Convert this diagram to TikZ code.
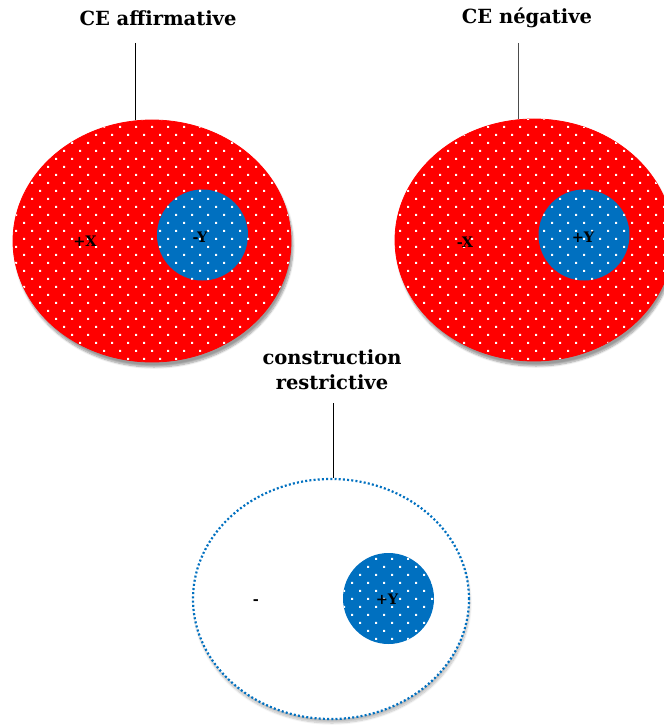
\documentclass[tikz,border=0pt]{standalone}
\usepackage{fontspec}
\setmainfont{DejaVu Serif}
\usetikzlibrary{shapes.geometric,patterns,shadows.blur}
\definecolor{setred}{HTML}{FF0000}
\definecolor{setblue}{HTML}{0070C0}
\pgfdeclarepatternformonly{whitedots}{\pgfqpoint{-1pt}{-1pt}}{\pgfqpoint{15pt}{15pt}}{\pgfqpoint{16pt}{16pt}}{%
  \pgfpathrectangle{\pgfqpoint{-1pt}{-1pt}}{\pgfqpoint{2.2pt}{2.2pt}}%
  \pgfpathrectangle{\pgfqpoint{7pt}{7pt}}{\pgfqpoint{2.2pt}{2.2pt}}%
  \pgfusepath{fill}}
\tikzset{
  setlabel/.style={font=\bfseries\fontsize{19.5}{25}\selectfont, align=center, inner sep=0pt},
  sign/.style={font=\bfseries\fontsize{14.5}{16}\selectfont, inner sep=0pt},
  dotfill/.style={postaction={pattern=whitedots, pattern color=white}},
  bigset/.style={ellipse, minimum width=278pt, minimum height=242pt, inner sep=0pt,
    fill=setred, draw=setred, line width=.8pt, dotfill,
    blur shadow={shadow xshift=2pt, shadow yshift=-5pt, shadow blur steps=8, shadow opacity=40}},
  emptyset/.style={ellipse, minimum width=276pt, minimum height=240pt, inner sep=0pt,
    fill=white, draw=setblue, line width=2.2pt, dash pattern=on 2pt off 2.2pt,
    blur shadow={shadow xshift=1pt, shadow yshift=-4pt, shadow blur steps=8, shadow opacity=25}},
  subset/.style={circle, minimum size=91pt, inner sep=0pt, fill=setblue, dotfill}
}
\begin{document}
\begin{tikzpicture}[x=1pt, y=-1pt]
\useasboundingbox (0,0) rectangle (663,727);
% CE affirmative
\node[bigset] (ea) at (152,241) {};
\node[subset] (ya) at (202.5,235) {};
\node[sign] (xa) at (85,241) {+X};
\node[sign] (ma) at (200,237) {-Y};
\node[setlabel] (la) at (158,18) {CE affirmative};
\coordinate (ta) at (135,43);
\draw (ta) -- (ta |- ea.north);
% CE negative
\node[bigset] (eb) at (534,240) {};
\node[subset] (yb) at (584,235) {};
\node[sign] (xb) at (465,242) {-X};
\node[sign] (mb) at (583,237) {+Y};
\node[setlabel] (lb) at (527,18) {CE négative};
\coordinate (tb) at (518,43);
\draw[black!70] (tb) -- (tb |- eb.north);
% construction restrictive
\node[emptyset] (ec) at (331,599) {};
\node[subset] (yc) at (388.5,598.5) {};
\node[sign] (xc) at (256,602) {-};
\node[sign] (mc) at (387,599) {+Y};
\node[setlabel] (lc) at (332,369.5) {construction\\restrictive};
\coordinate (tc) at (333,403);
\draw (tc) -- (tc |- ec.north);
\end{tikzpicture}
\end{document}
